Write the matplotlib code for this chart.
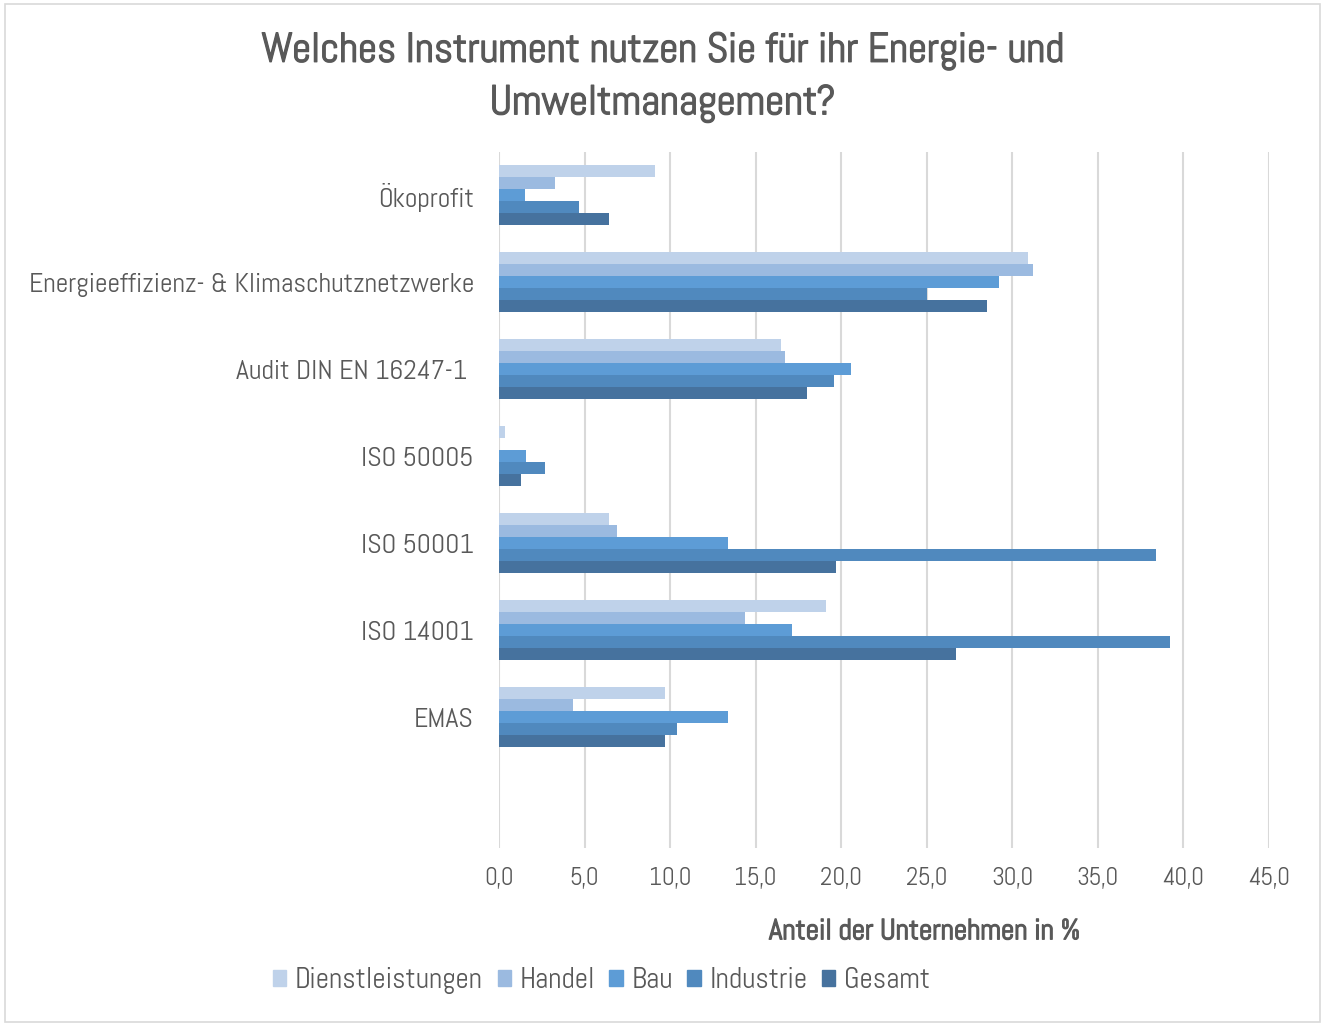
import matplotlib.pyplot as plt
import matplotlib.patches as mpatches
import matplotlib.patheffects as pe
import numpy as np

plt.rcParams['font.family'] = ['Abel', 'Barlow Semi Condensed', 'DejaVu Sans']

# Daten
kategorien = ['Ökoprofit', 'Energieeffizienz- & Klimaschutznetzwerke', 'Audit DIN EN 16247-1 ',
              'ISO 50005', 'ISO 50001', 'ISO 14001', 'EMAS', '']
serien = ['Dienstleistungen', 'Handel', 'Bau', 'Industrie', 'Gesamt']
dienstleistungen = [9.1, 30.9, 16.5, 0.35, 6.4, 19.1, 9.7, 0]
handel = [3.3, 31.2, 16.7, 0.0, 6.9, 14.4, 4.3, 0]
bau = [1.5, 29.2, 20.6, 1.6, 13.4, 17.1, 13.4, 0]
industrie = [4.7, 25.0, 19.6, 2.7, 38.4, 39.2, 10.4, 0]
gesamt = [6.4, 28.5, 18.0, 1.3, 19.7, 26.7, 9.7, 0]
werte = [dienstleistungen, handel, bau, industrie, gesamt]
farben = ['#BFD2EA', '#9BBAE0', '#5D9CD6', '#5089BE', '#46729E']
x_ticks = np.arange(0, 50, 5)

grau = '#595959'
fett = [pe.withStroke(linewidth=0.9, foreground=grau)]

fig = plt.figure(figsize=(13.25, 10.26), dpi=100)
ax = fig.add_axes([0.3766, 0.1735, 0.5811, 0.6784])

y = np.arange(len(kategorien))
h = 0.138
for j, (name, vals) in enumerate(zip(serien, werte)):
    ax.barh(y + (j - 2) * h, vals, height=h, color=farben[j], label=name, zorder=3)

ax.set_ylim(len(kategorien) - 0.5, -0.5)
ax.set_xlim(0, 45)
ax.set_xticks(x_ticks)
ax.set_xticklabels([f'{v:.1f}'.replace('.', ',') for v in x_ticks], fontsize=18, color=grau)
ax.set_yticks(y)
ax.set_yticklabels(kategorien, fontsize=20, color=grau)
ax.tick_params(length=0, pad=18, axis='y')
ax.tick_params(length=0, pad=14, axis='x')
ax.grid(axis='x', color='#D9D9D9', linewidth=1.5, zorder=0)
for s in ax.spines.values():
    s.set_visible(False)

xl = ax.set_xlabel('Anteil der Unternehmen in %', fontsize=21, color=grau)
xl.set_path_effects(fett)
ax.xaxis.set_label_coords(0.553, -0.101)

t = fig.text(0.5, 0.969, 'Welches Instrument nutzen Sie für ihr Energie- und\nUmweltmanagement?',
             ha='center', va='top', fontsize=30, color=grau, linespacing=1.45)
t.set_path_effects(fett)

handles = [mpatches.Patch(color=c, label=n) for c, n in zip(farben, serien)]
fig.legend(handles=handles, loc='center', bbox_to_anchor=(0.454, 0.044), ncol=5,
           frameon=False, fontsize=21, labelcolor=grau, handlelength=0.45,
           handleheight=0.45, handletextpad=0.3, columnspacing=0.5)

fig.patches.append(mpatches.Rectangle((0.004, 0.004), 0.992, 0.992, transform=fig.transFigure,
                                      fill=False, edgecolor='#D9D9D9', linewidth=1.2))

fig.savefig('out.png', dpi=100)
